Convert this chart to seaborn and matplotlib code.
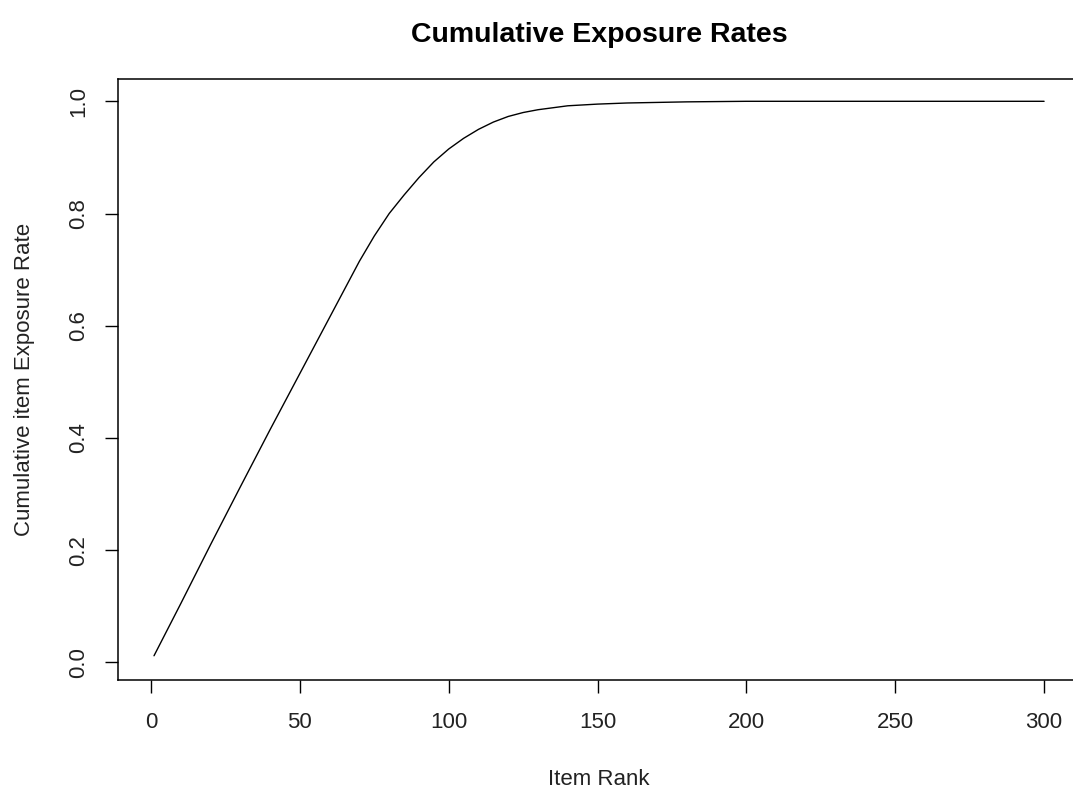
import matplotlib
matplotlib.use("Agg")
import matplotlib.pyplot as plt
import seaborn as sns
import pandas as pd

# Data (cumulative exposure rate by item rank)
item_rank = [1, 10, 20, 30, 40, 50, 60, 65, 70, 75, 80, 85, 90, 95, 100, 105,
             110, 115, 120, 125, 130, 140, 150, 160, 180, 200, 250, 300]
cum_exposure = [0.012, 0.105, 0.210, 0.313, 0.415, 0.515, 0.615, 0.665, 0.715,
                0.760, 0.800, 0.833, 0.864, 0.892, 0.915, 0.934, 0.950, 0.963,
                0.973, 0.980, 0.985, 0.992, 0.995, 0.997, 0.999, 1.000, 1.000, 1.000]
x_ticks = [0, 50, 100, 150, 200, 250, 300]
y_ticks = [0.0, 0.2, 0.4, 0.6, 0.8, 1.0]
y_tick_labels = ["0.0", "0.2", "0.4", "0.6", "0.8", "1.0"]

title = "Cumulative Exposure Rates"
x_label = "Item Rank"
y_label = "Cumulative item Exposure Rate"

sns.set_style("ticks")
plt.rcParams["font.family"] = ["Liberation Sans", "DejaVu Sans"]

df = pd.DataFrame({"rank": item_rank, "rate": cum_exposure})

fig = plt.figure(figsize=(10.73, 7.90), dpi=100)
ax = fig.add_axes([118.4 / 1073, 1 - 679.5 / 790, 961.3 / 1073, (679.5 - 79.3) / 790])

sns.lineplot(data=df, x="rank", y="rate", ax=ax, color="black", linewidth=1.0)

ax.set_xlim(-10.96, 311.96)
ax.set_ylim(-0.0303, 1.0392)
ax.set_xticks(x_ticks)
ax.set_xticklabels([str(t) for t in x_ticks])
ax.set_yticks(y_ticks)
ax.set_yticklabels(y_tick_labels, rotation=90, va="center")

for s in ax.spines.values():
    s.set_visible(True)
    s.set_color("black")
    s.set_linewidth(1.1)
# the plot box continues past the right edge of the image in the reference
ax.spines["right"].set_visible(False)

ax.tick_params(axis="both", direction="out", length=9.2, width=1.0,
               color="black", labelsize=16, labelcolor="#222222")
ax.tick_params(axis="x", pad=14)
ax.tick_params(axis="y", pad=12)

ax.set_xlabel(x_label, fontsize=16, color="#222222", labelpad=26)
ax.set_ylabel(y_label, fontsize=16, color="#222222", labelpad=24)
ax.grid(False)

fig.text(599 / 1073, 1 - 35 / 790, title, ha="center", va="center",
         fontsize=20.5, fontweight="bold", color="black")

fig.savefig("out.png", dpi=100, facecolor="white")
